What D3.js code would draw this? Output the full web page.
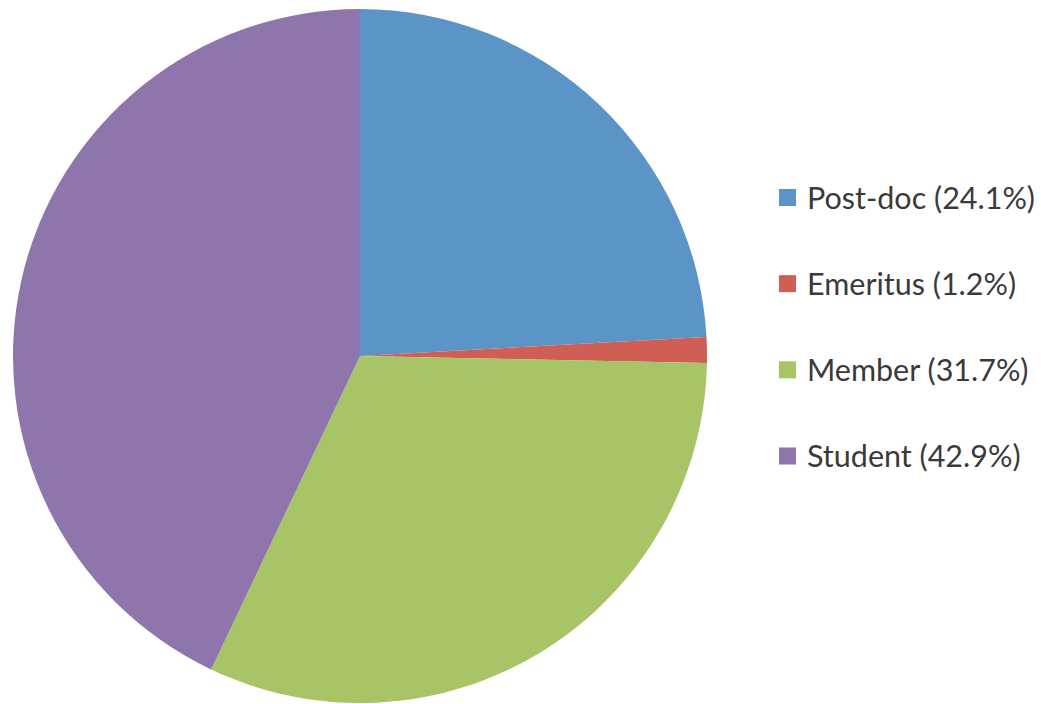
<!DOCTYPE html>
<html><head><meta charset="utf-8">
<script src="https://cdn.jsdelivr.net/npm/d3@7"></script>
<style>body{margin:0;background:#fff}svg{display:block}</style>
</head><body>
<svg id="c" width="1041" height="704"></svg>
<script>
const categories = ["Post-doc", "Emeritus", "Member", "Student"];
const values = [24.1, 1.2, 31.7, 42.9];
const labels = ["Post-doc (24.1%)", "Emeritus (1.2%)", "Member (31.7%)", "Student (42.9%)"];
const colors = ["#5b95c8", "#cf5e55", "#a7c467", "#8e75ac"];

const svg = d3.select("#c");
const cx = 360, cy = 356, r = 347;
const data = categories.map((c, i) => ({cat: c, value: values[i], label: labels[i]}));
const color = d3.scaleOrdinal().domain(categories).range(colors);
const pie = d3.pie().sort(null).value(d => d.value);
const arc = d3.arc().innerRadius(0).outerRadius(r);

svg.append("g").attr("transform", `translate(${cx},${cy})`)
  .selectAll("path").data(pie(data)).join("path")
  .attr("d", arc).attr("fill", d => color(d.data.cat));

const y = d3.scalePoint().domain(categories).range([197.5, 456]);
const lg = svg.append("g");
const items = lg.selectAll("g").data(data).join("g")
  .attr("transform", d => `translate(779,${y(d.cat)})`);
items.append("rect").attr("x", 0).attr("y", -8.5).attr("width", 17).attr("height", 17)
  .attr("fill", d => color(d.cat));
items.append("text").attr("x", 28).attr("y", 11)
  .attr("font-family", "Lato, 'Open Sans', sans-serif").attr("font-size", 30.5)
  .attr("fill", "#3a3a3a").text(d => d.label);
</script>
</body></html>
